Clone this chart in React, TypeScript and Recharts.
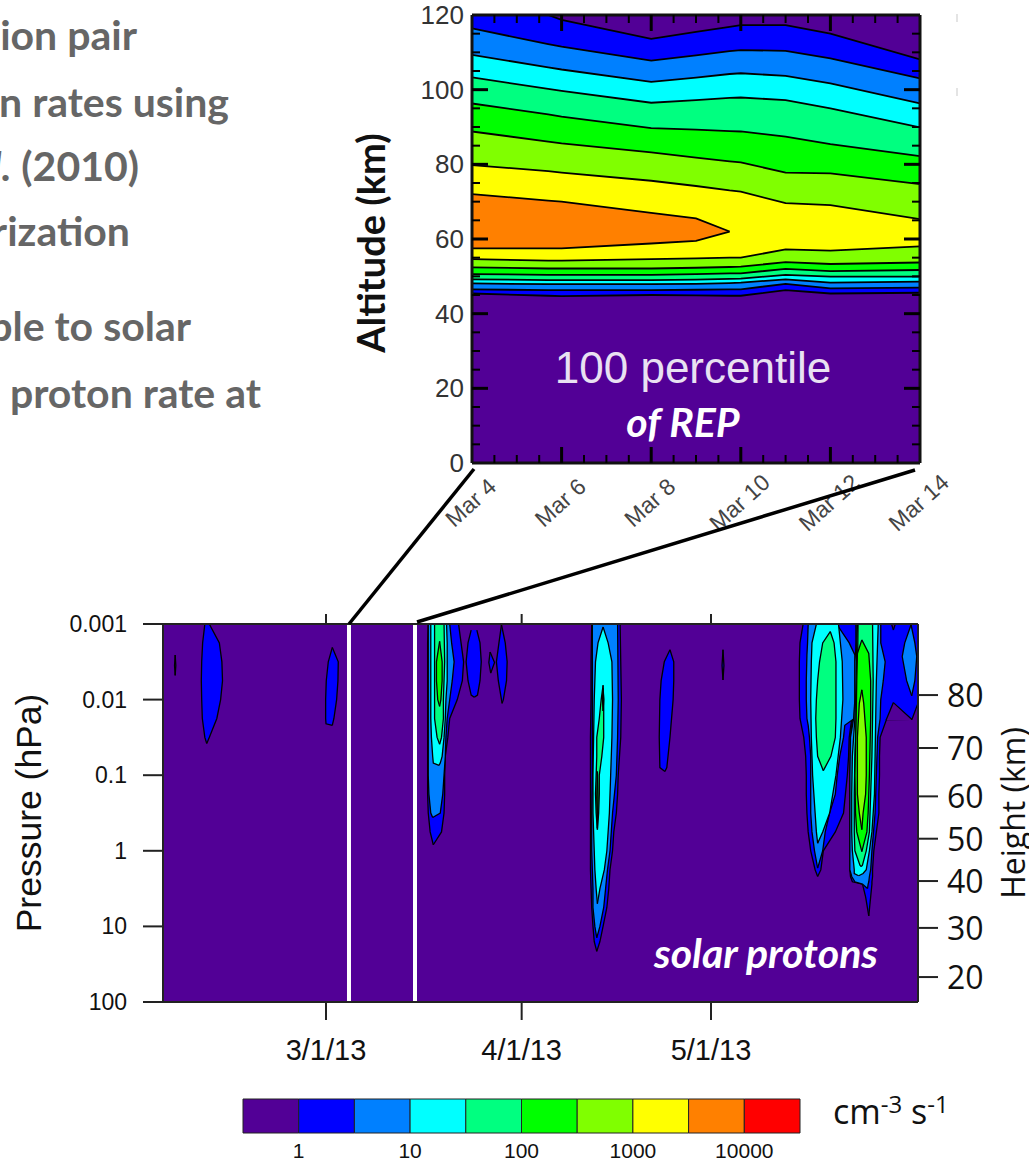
import React from 'react';
import { Area, Bar, BarChart, CartesianGrid, ComposedChart, ReferenceLine, XAxis, YAxis } from 'recharts';

// Colour levels of the contour plots
const PURPLE = '#520096';
const BLUE = '#0000ff';
const AZURE = '#0080ff';
const CYAN = '#00ffff';
const SPRING = '#00ff80';
const GREEN = '#00ff00';
const LIME = '#80ff00';
const YELLOW = '#ffff00';
const ORANGE = '#ff8000';
const RED = '#ff0000';

// ---- REP panel: altitude (km) of every contour, top and bottom edge, per day of March
const repDays = [4, 5.7, 6, 8, 9, 9.75, 10, 11, 12, 14];
const blueTop = [121.5, 120, 118.7, 113.6, 115.5, 116.8, 117.3, 117.3, 115, 108.1];
const blueBottom = [45.4, 44.8, 44.7, 45, 44.9, 44.8, 44.8, 46.3, 45.4, 45.6];
const azureTop = [116.4, 112.2, 111.5, 107.8, 109.2, 110.3, 110.6, 110.4, 108.4, 103];
const azureBottom = [46.5, 46.3, 46.3, 46.3, 46.4, 46.5, 46.5, 48, 46.8, 47];
const cyanTop = [109.3, 106, 105.4, 102.1, 103.2, 104.2, 104.4, 103.7, 101.7, 96.3];
const cyanBottom = [48.1, 47.9, 47.9, 47.9, 48, 48.2, 48.3, 49.2, 48.3, 48.6];
const springTop = [103.3, 100.2, 99.7, 96.5, 97.2, 97.8, 97.9, 97.2, 95, 89.9];
const springBottom = [49.2, 49, 49, 49, 49.1, 49.3, 49.4, 50.4, 49.9, 49.9];
const greenTop = [96.3, 93.4, 92.8, 89.7, 89.3, 88.9, 88.8, 87.4, 85.4, 82.2];
const greenBottom = [50.6, 50.4, 50.4, 50.4, 50.6, 50.8, 50.8, 52, 51.4, 51.7];
const limeTop = [88.8, 86.1, 85.6, 83.2, 81.8, 80.8, 80.5, 77.8, 77.6, 74.7];
const limeBottom = [52.4, 52.1, 52.1, 52.1, 52.3, 52.5, 52.6, 53.8, 53.3, 53.7];
const yellowTop = [79.8, 78.2, 77.8, 75.6, 74.2, 73, 72.7, 69.6, 69.1, 65.3];
const yellowBottom = [54.6, 54.2, 54.2, 54.6, 54.8, 55, 55, 57.2, 56.9, 58];
const orangeTop = [72, 70.3, 70, 67, 65.5, 62];
const orangeBottom = [57.5, 57.5, 57.5, 58.8, 59.5, 62];

const altitudeTicks = [0, 5, 10, 15, 20, 25, 30, 35, 40, 45, 50, 55, 60, 65, 70, 75, 80, 85, 90, 95, 100, 105, 110, 115, 120];
const dayTicks = [4, 4.5, 5, 5.5, 6, 6.5, 7, 7.5, 8, 8.5, 9, 9.5, 10, 10.5, 11, 11.5, 12, 12.5, 13, 13.5, 14];

const repBands = [
    { key: 'blue', color: BLUE, top: blueTop, bottom: blueBottom },
    { key: 'azure', color: AZURE, top: azureTop, bottom: azureBottom },
    { key: 'cyan', color: CYAN, top: cyanTop, bottom: cyanBottom },
    { key: 'spring', color: SPRING, top: springTop, bottom: springBottom },
    { key: 'green', color: GREEN, top: greenTop, bottom: greenBottom },
    { key: 'lime', color: LIME, top: limeTop, bottom: limeBottom },
    { key: 'yellow', color: YELLOW, top: yellowTop, bottom: yellowBottom },
    { key: 'orange', color: ORANGE, top: orangeTop, bottom: orangeBottom },
];

const repData = repDays.map((day, i) => {
    const row: Record<string, unknown> = { day };
    repBands.forEach((b) => {
        row[b.key] = b.top[i] === undefined ? null : [b.bottom[i], b.top[i]];
    });
    return row;
});

// ---- Solar proton panel: each contour as [log10 pressure, left day, right day], days counted from Mar 1
const proton0: number[][] = [[-2.59, -23.9, -23.9], [-2.45, -24, -23.8], [-2.32, -23.9, -23.9]];
const proton1: number[][] = [[-3, -19.2, -18.5], [-2.75, -19.55, -16.9], [-2.5, -19.7, -16.5], [-2.25, -19.76, -16.4], [-2, -19.7, -16.7], [-1.75, -19.6, -17.3], [-1.5, -19.2, -18.5], [-1.42, -18.9, -18.9]];
const proton2: number[][] = [[-2.69, 1, 1], [-2.5, 0.36, 1.94], [-2.25, 0.04, 1.89], [-2, -0.06, 1.68], [-1.75, -0.06, 1.25], [-1.68, 0, 1.05], [-1.66, 1, 1]];

const eventABlue: number[][] = [[-3, 16.2, 21], [-2.75, 16.1, 21.4], [-2.5, 16.1, 21.8], [-2.25, 16.1, 21.6], [-2, 16.1, 20.8], [-1.75, 16.1, 19.6], [-1.5, 16.1, 19.3], [-1.25, 16.1, 18.9], [-1, 16.1, 18.8], [-0.75, 16.1, 18.8], [-0.5, 16.2, 18.7], [-0.25, 16.5, 18.3], [-0.08, 17, 17]];
const eventAAzure: number[][] = [[-3, 16.2, 19.6], [-2.75, 16.2, 19.9], [-2.5, 16.2, 20.3], [-2.25, 16.2, 20], [-2, 16.2, 19.6], [-1.75, 16.2, 19.2], [-1.5, 16.2, 19], [-1.25, 16.2, 18.9], [-1, 16.2, 18.7], [-0.75, 16.3, 18.5], [-0.5, 16.6, 18.1], [-0.44, 16.9, 16.9]];
const eventACyan: number[][] = [[-3, 16.6, 19.1], [-2.75, 16.6, 19.2], [-2.5, 16.6, 19.2], [-2.25, 16.6, 19.2], [-2, 16.6, 19], [-1.75, 16.6, 18.9], [-1.5, 16.7, 18.7], [-1.25, 16.9, 18.4], [-1.16, 17, 18.1], [-1.13, 17.9, 17.9]];
const eventASpring: number[][] = [[-3, 17.2, 18.7], [-2.5, 17.2, 18.8], [-2, 17.2, 18.6], [-1.75, 17.2, 18.6], [-1.5, 17.6, 18.3], [-1.41, 18, 18]];
const eventAGreen: number[][] = [[-2.77, 18, 18], [-2.5, 17.5, 18.4], [-2.25, 17.5, 18.4], [-2, 17.7, 18.2], [-1.91, 18, 18]];

const proton3: number[][] = [[-2.92, 23, 23.9], [-2.75, 22.5, 24.4], [-2.5, 22.2, 24.6], [-2.25, 22.5, 24.4], [-2.06, 23, 24], [-2.03, 23.5, 23.5]];
const proton4: number[][] = [[-2.63, 26, 26], [-2.49, 25.8, 26.7], [-2.35, 26.1, 26.1]];
const proton5: number[][] = [[-2.99, 27.8, 27.8], [-2.75, 27.4, 28.4], [-2.5, 27, 28.7], [-2.25, 27.3, 28.6], [-2, 27.8, 28.1], [-1.95, 27.9, 27.9]];

const eventBBlue: number[][] = [[-3, 42.1, 46.6], [-2.5, 42, 46.7], [-2, 42, 46.8], [-1.5, 41.9, 46.7], [-1, 41.9, 46.3], [-0.75, 41.9, 46.2], [-0.5, 41.9, 46], [-0.25, 41.9, 45.6], [0, 41.9, 45.4], [0.25, 41.9, 45], [0.5, 42, 44.8], [0.75, 42.1, 44.5], [1, 42.3, 43.9], [1.2, 42.5, 43.4], [1.33, 42.9, 42.9]];
const eventBAzure: number[][] = [[-3, 42.2, 46.2], [-2, 42.2, 46.3], [-1.5, 42.2, 46.2], [-1, 42.2, 46], [-0.5, 42.1, 45.4], [0, 42.1, 45], [0.25, 42.2, 44.6], [0.5, 42.3, 44.3], [0.75, 42.3, 44], [1, 42.6, 43.4], [1.15, 42.9, 42.9]];
const eventBCyan: number[][] = [[-2.96, 43.9, 43.9], [-2.75, 43.1, 44.7], [-2.5, 42.7, 45.3], [-2, 42.5, 45.4], [-1.5, 42.4, 45.3], [-1, 42.3, 45.1], [-0.5, 42.3, 44.9], [0, 42.5, 44.5], [0.25, 42.6, 44.1], [0.5, 42.8, 43.4], [0.7, 43, 43]];
const eventBSpring: number[][] = [[-2.19, 43.9, 43.9], [-2, 43.6, 44], [-1.75, 43.3, 44], [-1.5, 42.9, 44], [-1.25, 42.9, 43.7], [-1, 42.8, 43.3], [-0.75, 42.7, 43.3], [-0.5, 42.8, 43.2], [-0.28, 43, 43]];
const eventBGreenHigh: number[][] = [[-2.15, 43.9, 43.9], [-2, 43.8, 44], [-1.85, 43.9, 43.9]];
const eventBGreenLow: number[][] = [[-1.05, 43, 43], [-0.7, 42.9, 43.1], [-0.3, 43, 43]];

const proton6: number[][] = [[-2.66, 54.5, 54.5], [-2.5, 53.6, 55.1], [-2.25, 53.1, 55.1], [-2, 52.9, 55], [-1.5, 52.8, 54.5], [-1.1, 52.9, 54], [-1.05, 53.7, 53.7]];
const proton7: number[][] = [[-2.66, 62.9, 62.9], [-2.45, 62.75, 63.05], [-2.26, 62.9, 62.9]];

const eventCBlue: number[][] = [[-3, 75.6, 84], [-2.75, 75.1, 84], [-2.5, 75, 84], [-2.25, 75, 84], [-2, 75, 84], [-1.75, 75.1, 83.3], [-1.5, 75.7, 82.9], [-1.25, 76, 82.8], [-1, 76.1, 82.6], [-0.75, 76.1, 82.3], [-0.5, 76.2, 82], [-0.25, 76.4, 80.7], [0, 76.8, 78.8], [0.25, 77.5, 78.4], [0.34, 77.9, 77.9]];
const eventCAzure: number[][] = [[-3, 76.4, 80.9], [-2.75, 76.3, 82.9], [-2.59, 76.2, 83.8], [-2.25, 76.1, 83.8], [-2, 76.1, 83.8], [-1.75, 76.2, 83.7], [-1.66, 76.4, 82.2], [-1.5, 76.6, 82], [-1.25, 76.8, 81.4], [-1, 76.8, 81], [-0.75, 76.8, 80.7], [-0.5, 76.8, 79.8], [-0.25, 77, 79.1], [0, 77.4, 78.7], [0.23, 77.9, 77.9]];
const eventCCyan: number[][] = [[-3, 77.7, 81.2], [-2.75, 77, 81.5], [-2.5, 76.9, 81.8], [-2, 76.8, 81.9], [-1.5, 76.9, 81.5], [-1, 77.1, 80.8], [-0.5, 77.5, 79.8], [-0.25, 77.7, 78.7], [-0.1, 77.9, 77.9]];
const eventCSpring: number[][] = [[-2.9, 79.9, 79.9], [-2.75, 78.7, 80.5], [-2.5, 78.2, 80.8], [-2.25, 77.9, 80.8], [-2, 77.7, 80.8], [-1.75, 77.6, 80.8], [-1.5, 77.7, 80.7], [-1.25, 77.9, 80], [-1.06, 78.8, 78.8]];

const eventDBlue: number[][] = [[-3, 83.8, 93.8], [-2.5, 83.7, 93.8], [-1.96, 83.7, 93.8], [-1.93, 83.6, 93.7], [-1.75, 83.4, 92.9], [-1.74, 83.4, 92.8], [-1.735, 83.4, 88.8], [-1.5, 83.1, 87.8], [-1.25, 83.1, 87.7], [-1, 83, 87.7], [-0.75, 83, 87.6], [-0.5, 83, 87.6], [-0.25, 83, 87.2], [0, 83, 86.8], [0.25, 83, 86.6], [0.34, 83.1, 86.6], [0.41, 83.4, 86.5], [0.44, 85, 86.5], [0.61, 85.5, 86.3], [0.86, 86, 86]];
const eventDNotch: number[][] = [[-1.96, 89.9, 89.9], [-1.74, 88.8, 92.8], [-1.73, 88.75, 92.8]];
const eventDAzure: number[][] = [[-3, 84, 87.9], [-2.75, 84, 87.9], [-2.5, 83.8, 88.6], [-2.25, 83.8, 88.3], [-2, 83.8, 87.9], [-1.75, 83.6, 87.8], [-1.5, 83.1, 87.4], [-1, 83, 87.2], [-0.5, 83, 87], [0, 83, 86.5], [0.25, 83, 86.3], [0.34, 83.3, 86.1], [0.41, 83.8, 86], [0.44, 85, 85.9], [0.5, 85.8, 85.8]];
const eventDCyan: number[][] = [[-3, 84.2, 87.5], [-2.75, 84.1, 87.4], [-2.25, 84, 87.2], [-1.75, 83.8, 87.1], [-1.25, 83.4, 87], [-0.75, 83.3, 86.9], [-0.25, 83.3, 86.5], [0, 83.4, 86.1], [0.25, 83.7, 85.6], [0.3, 83.7, 85.1], [0.33, 84.4, 84.4]];
const eventDSpring: number[][] = [[-3, 84.3, 86.6], [-2.25, 84.2, 86.7], [-1.75, 84, 86.6], [-1.25, 83.8, 86.5], [-0.75, 83.7, 86.3], [-0.25, 83.7, 86.1], [0, 83.8, 85.6], [0.19, 84.6, 85], [0.21, 84.8, 84.8]];
const eventDGreen: number[][] = [[-2.79, 84.9, 84.9], [-2.61, 84.2, 86], [-2.25, 84.1, 86.3], [-1.75, 84, 86.3], [-1, 83.8, 86.1], [-0.5, 83.9, 85.9], [-0.25, 84.1, 85.7], [0.01, 84.9, 84.9]];
const eventDLime: number[][] = [[-2.13, 84.9, 84.9], [-1.95, 84.5, 85.2], [-1.5, 84.2, 85.6], [-1, 84.2, 85.6], [-0.75, 84.2, 85.5], [-0.5, 84.5, 85.1], [-0.28, 84.9, 84.9]];
const topNotch: number[][] = [[-3, 89.6, 90.2], [-2.92, 89.9, 89.9]];
const edgePatch: number[][] = [[-2.99, 92.7, 92.7], [-2.75, 91.7, 93.3], [-2.57, 91.3, 93.6], [-2.25, 92, 93.3], [-2.05, 92.8, 92.8]];

// painted back to front
const protonContours: { points: number[][]; color: string }[] = [
    { points: proton0, color: BLUE },
    { points: proton1, color: BLUE },
    { points: proton2, color: BLUE },
    { points: eventABlue, color: BLUE },
    { points: eventAAzure, color: AZURE },
    { points: eventACyan, color: CYAN },
    { points: eventASpring, color: SPRING },
    { points: eventAGreen, color: GREEN },
    { points: proton3, color: BLUE },
    { points: proton4, color: BLUE },
    { points: proton5, color: BLUE },
    { points: eventBBlue, color: BLUE },
    { points: eventBAzure, color: AZURE },
    { points: eventBCyan, color: CYAN },
    { points: eventBSpring, color: SPRING },
    { points: eventBGreenHigh, color: GREEN },
    { points: eventBGreenLow, color: GREEN },
    { points: proton6, color: BLUE },
    { points: proton7, color: BLUE },
    { points: eventDBlue, color: BLUE },
    { points: eventDNotch, color: PURPLE },
    { points: eventCBlue, color: BLUE },
    { points: eventCAzure, color: AZURE },
    { points: eventCCyan, color: CYAN },
    { points: eventCSpring, color: SPRING },
    { points: eventDAzure, color: AZURE },
    { points: eventDCyan, color: CYAN },
    { points: eventDSpring, color: SPRING },
    { points: eventDGreen, color: GREEN },
    { points: eventDLime, color: LIME },
    { points: topNotch, color: PURPLE },
    { points: edgePatch, color: AZURE },
];

const toRows = (points: number[][]) => points.map(([level, left, right]) => ({ level, span: [left, right] }));

const pressureTicks = [-3, -2, -1, 0, 1, 2];
const pressureLabels = ['0.001', '0.01', '0.1', '1', '10', '100'];
const heightTicks = [-2.06, -1.36, -0.72, -0.16, 0.4, 1.02, 1.67];
const heightLabels = ['80', '70', '60', '50', '40', '30', '20'];
const dateTicks = [0, 31, 61];
const dateLabels = ['3/1/13', '4/1/13', '5/1/13'];
const cutoutDays = [3.64, 14.1];

// ---- Colour bar
const barColors = [PURPLE, BLUE, AZURE, CYAN, SPRING, GREEN, LIME, YELLOW, ORANGE, RED];
const barData = [Object.fromEntries(barColors.map((_, i) => [`c${i}`, 1]))];
const barTicks = [1, 3, 5, 7, 9];
const barLabels = ['1', '10', '100', '1000', '10000'];

// ---- Slide text that sits around the plots
const sideText = [
    { text: 'ion pair', end: 137, y: 50 },
    { text: 'n rates using', end: 229, y: 117 },
    { text: 'rization', end: 130, y: 246 },
    { text: 'ble to solar', end: 191, y: 341 },
    { text: 'proton rate at', end: 261, y: 408 },
];

const SANS = '"Liberation Sans", Arial, sans-serif';
const AVENIR = 'Lato, "Open Sans", sans-serif';

const App: React.FC = () => {
    const altitudeTick = (side: 'left' | 'right') => (p: any) => {
        const v = p.payload.value;
        const major = v % 20 === 0;
        const len = major ? 16 : 8;
        const dir = side === 'left' ? 1 : -1;
        return (
            <g>
                {v > 0 && v < 120 && <line x1={p.x} x2={p.x + dir * len} y1={p.y} y2={p.y} stroke="#000" strokeWidth={major ? 3 : 2} />}
                {side === 'left' && major && (
                    <text x={p.x - 8} y={p.y + 9} textAnchor="end" fontFamily={SANS} fontSize={26} fill="#333">{v}</text>
                )}
            </g>
        );
    };
    const dayTick = (side: 'top' | 'bottom') => (p: any) => {
        const v = p.payload.value;
        const major = v % 2 === 0;
        const len = major ? 16 : 8;
        const dir = side === 'bottom' ? -1 : 1;
        return (
            <g>
                {v > 4 && v < 14 && <line x1={p.x} x2={p.x} y1={p.y} y2={p.y + dir * len} stroke="#000" strokeWidth={major ? 3 : 2} />}
                {side === 'bottom' && major && (
                    <text x={p.x} y={p.y + 47} textAnchor="middle" transform={`rotate(-42 ${p.x} ${p.y + 41})`} fontFamily={SANS} fontSize={23} fill="#444">{`Mar ${v}`}</text>
                )}
            </g>
        );
    };
    const pressureTick = (p: any) => (
        <g>
            <line x1={p.x} x2={p.x - 20} y1={p.y} y2={p.y} stroke="#222" strokeWidth={2} />
            <text x={p.x - 36} y={p.y + 8} textAnchor="end" fontFamily={SANS} fontSize={23} fill="#111">{pressureLabels[pressureTicks.indexOf(p.payload.value)]}</text>
        </g>
    );
    const heightTick = (p: any) => (
        <g>
            <line x1={p.x} x2={p.x + 20} y1={p.y} y2={p.y} stroke="#222" strokeWidth={2} />
            <text x={p.x + 29} y={p.y + 12} fontFamily="'Open Sans', sans-serif" fontSize={32} fill="#111">{heightLabels[heightTicks.indexOf(p.payload.value)]}</text>
        </g>
    );
    const dateTick = (p: any) => (
        <g>
            <line x1={p.x} x2={p.x} y1={p.y} y2={p.y + 18} stroke="#222" strokeWidth={2} />
            <text x={p.x} y={p.y + 58} textAnchor="middle" fontFamily={SANS} fontSize={29} fill="#111">{dateLabels[dateTicks.indexOf(p.payload.value)]}</text>
        </g>
    );
    const dateTopTick = (p: any) => <line x1={p.x} x2={p.x} y1={p.y} y2={p.y - 10} stroke="#222" strokeWidth={2} />;
    const barTick = (p: any) => (
        <text x={p.x} y={p.y + 25} textAnchor="middle" fontFamily={SANS} fontSize={21} fill="#111">{barLabels[barTicks.indexOf(p.payload.value)]}</text>
    );

    return (
        <div style={{ position: 'absolute', left: 0, top: 0, width: 1029, height: 1162, overflow: 'hidden', background: '#fff' }}>
            {/* solar proton panel */}
            <div style={{ position: 'absolute', left: 0, top: 580 }}>
                <ComposedChart width={1029} height={582} layout="vertical" margin={{ top: 43, right: 110, bottom: 159, left: 162 }}>
                    <CartesianGrid fill={PURPLE} horizontal={false} vertical={false} />
                    <XAxis xAxisId={0} type="number" domain={[-25.83, 93.8]} ticks={dateTicks} allowDataOverflow height={1} tickSize={0} tickMargin={0} interval={0} tickLine={false} axisLine={{ stroke: '#222', strokeWidth: 2 }} tick={dateTick} />
                    <XAxis xAxisId="top" orientation="top" type="number" domain={[-25.83, 93.8]} ticks={dateTicks} allowDataOverflow height={1} tickSize={0} tickMargin={0} interval={0} tickLine={false} axisLine={{ stroke: '#222', strokeWidth: 2 }} tick={dateTopTick} />
                    <YAxis yAxisId={0} type="number" dataKey="level" domain={[-3, 2]} ticks={pressureTicks} allowDataOverflow width={1} tickSize={0} tickMargin={0} interval={0} tickLine={false} axisLine={{ stroke: '#222', strokeWidth: 2 }} tick={pressureTick} />
                    <YAxis yAxisId="height" orientation="right" type="number" dataKey="level" domain={[-3, 2]} ticks={heightTicks} allowDataOverflow width={1} tickSize={0} tickMargin={0} interval={0} tickLine={false} axisLine={{ stroke: '#222', strokeWidth: 2 }} tick={heightTick} />
                    {protonContours.map((c, i) => (
                        <Area key={i} data={toRows(c.points)} dataKey="span" type="linear" fill={c.color} fillOpacity={1} stroke="#000" strokeWidth={1.3} dot={false} activeDot={false} isAnimationActive={false} />
                    ))}
                    {cutoutDays.map((d) => (
                        <ReferenceLine key={d} x={d} stroke="#fff" strokeWidth={4} />
                    ))}
                </ComposedChart>
            </div>

            {/* REP panel */}
            <div style={{ position: 'absolute', left: 340, top: 0 }}>
                <ComposedChart width={689} height={560} data={repData} margin={{ top: 14, right: 108, bottom: 96, left: 131 }}>
                    <CartesianGrid fill={PURPLE} horizontal={false} vertical={false} />
                    <XAxis xAxisId={0} dataKey="day" type="number" domain={[4, 14]} ticks={dayTicks} allowDataOverflow height={1} tickSize={0} tickMargin={0} interval={0} tickLine={false} axisLine={{ stroke: '#111', strokeWidth: 3 }} tick={dayTick('bottom')} />
                    <XAxis xAxisId="top" orientation="top" dataKey="day" type="number" domain={[4, 14]} ticks={dayTicks} allowDataOverflow height={1} tickSize={0} tickMargin={0} interval={0} tickLine={false} axisLine={{ stroke: '#111', strokeWidth: 3 }} tick={dayTick('top')} />
                    <YAxis yAxisId={0} type="number" domain={[0, 120]} ticks={altitudeTicks} allowDataOverflow width={1} tickSize={0} tickMargin={0} interval={0} tickLine={false} axisLine={{ stroke: '#111', strokeWidth: 3 }} tick={altitudeTick('left')} />
                    <YAxis yAxisId="right" orientation="right" type="number" domain={[0, 120]} ticks={altitudeTicks} allowDataOverflow width={1} tickSize={0} tickMargin={0} interval={0} tickLine={false} axisLine={{ stroke: '#111', strokeWidth: 3 }} tick={altitudeTick('right')} />
                    {repBands.map((b) => (
                        <Area key={b.key} dataKey={b.key} type="linear" fill={b.color} fillOpacity={1} stroke="#000" strokeWidth={1.8} dot={false} activeDot={false} isAnimationActive={false} />
                    ))}
                </ComposedChart>
            </div>

            {/* colour bar */}
            <div style={{ position: 'absolute', left: 200, top: 1080 }}>
                <BarChart width={660} height={82} layout="vertical" data={barData} barCategoryGap={0} margin={{ top: 19, right: 60, bottom: 28, left: 43 }}>
                    <XAxis type="number" domain={[0, 10]} ticks={barTicks} height={1} tickSize={0} tickMargin={0} interval={0} tickLine={false} axisLine={false} tick={barTick} />
                    <YAxis type="category" hide />
                    {barColors.map((color, i) => (
                        <Bar key={color} dataKey={`c${i}`} stackId="scale" fill={color} stroke="#222" strokeWidth={1} isAnimationActive={false} />
                    ))}
                </BarChart>
            </div>

            {/* text and connector lines */}
            <svg width={1029} height={1162} style={{ position: 'absolute', left: 0, top: 0, pointerEvents: 'none' }}>
                <line x1={474} y1={469} x2={349} y2={624} stroke="#000" strokeWidth={3.5} />
                <line x1={915} y1={470} x2={417} y2={622} stroke="#000" strokeWidth={3.5} />
                {sideText.map((t) => (
                    <text key={t.text} x={t.end} y={t.y} textAnchor="end" fontFamily={AVENIR} fontWeight={700} fontSize={41} fill="#666">{t.text}</text>
                ))}
                <text x={139} y={181} textAnchor="end" fontFamily={AVENIR} fontWeight={700} fontSize={41} fill="#666"><tspan fontStyle="italic">al.</tspan> (2010)</text>
                <text transform="translate(385 243) rotate(-90)" textAnchor="middle" fontFamily={AVENIR} fontWeight={700} fontSize={38} fill="#111">Altitude (km)</text>
                <text x={693} y={383} textAnchor="middle" fontFamily={SANS} fontSize={44} fill="#e9e1f2">100 percentile</text>
                <text x={683} y={437} textAnchor="middle" fontFamily={AVENIR} fontStyle="italic" fontWeight={700} fontSize={41} fill="#fff">of REP</text>
                <text x={766} y={968} textAnchor="middle" fontFamily={AVENIR} fontStyle="italic" fontWeight={700} fontSize={41} fill="#fff">solar protons</text>
                <text transform="translate(41 813) rotate(-90)" textAnchor="middle" fontFamily={SANS} fontSize={35.5} fill="#111">Pressure (hPa)</text>
                <text transform="translate(1025 813) rotate(-90)" textAnchor="middle" fontFamily="'Open Sans', sans-serif" fontSize={32} fill="#111">Height (km)</text>
                <text x={833} y={1124} fontFamily="'Open Sans', sans-serif" fontSize={34} fill="#111">cm<tspan dy={-11} fontSize={24}>-3</tspan><tspan dy={11}> s</tspan><tspan dy={-11} fontSize={24}>-1</tspan></text>
                <rect x={956} y={14} width={2} height={8} fill="#e4e4e4" />
                <rect x={956} y={88} width={2} height={8} fill="#e4e4e4" />
            </svg>
        </div>
    );
};

export default App;
